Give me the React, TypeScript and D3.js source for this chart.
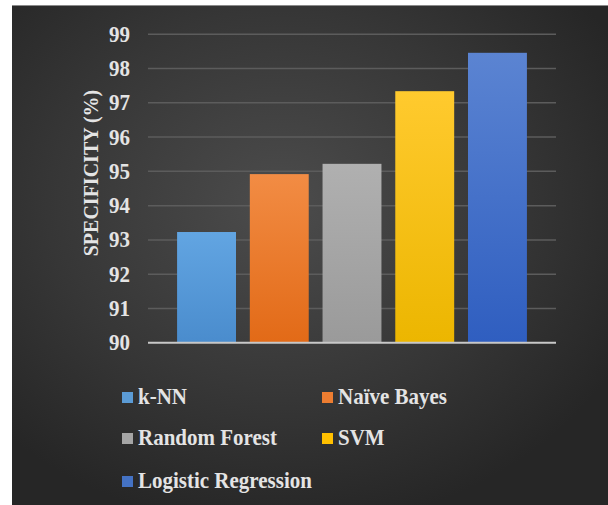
import React from "react";
import * as d3 from "d3";

const categories = ["k-NN", "Naïve Bayes", "Random Forest", "SVM", "Logistic Regression"];
const values = [93.23, 94.92, 95.22, 97.34, 98.46];
const colorsTop = ["#62a5e2", "#f28c44", "#b0b0b0", "#ffca2e", "#5b84d2"];
const colorsBottom = ["#4a8ccd", "#e26a17", "#9a9a9a", "#ecb600", "#2f5ec0"];
const legendColors = ["#5b9bd5", "#ed7d31", "#a5a5a5", "#ffc000", "#4472c4"];
const yTicks = [90, 91, 92, 93, 94, 95, 96, 97, 98, 99];
const yTitle = "SPECIFICITY (%)";

const W = 608;
const H = 505;

export default function App() {
  const x = d3.scaleBand<string>().domain(categories).range([148, 556]).paddingInner(0.19).paddingOuter(0.4);
  const y = d3.scaleLinear().domain([90, 99]).range([342.7, 34.3]);
  const fontStyle = { fontFamily: '"Liberation Serif", "DejaVu Serif", serif', fontWeight: 700 };
  const textColor = "#e4e4e4";

  const legendPos = [
    { x: 122, y: 404 },
    { x: 322, y: 404 },
    { x: 122, y: 445 },
    { x: 322, y: 445 },
    { x: 122, y: 488 },
  ];

  return (
    <svg width={W} height={H} style={{ position: "absolute", left: 0, top: 0 }}>
      <defs>
        <radialGradient id="bg" cx="45%" cy="40%" r="65%">
          <stop offset="0%" stopColor="#4c4c4c" />
          <stop offset="60%" stopColor="#363636" />
          <stop offset="100%" stopColor="#262626" />
        </radialGradient>
        {categories.map((c, i) => (
          <linearGradient key={c} id={`g${i}`} x1="0" y1="0" x2="0" y2="1">
            <stop offset="0%" stopColor={colorsTop[i]} />
            <stop offset="100%" stopColor={colorsBottom[i]} />
          </linearGradient>
        ))}
      </defs>
      <rect x={0} y={0} width={W} height={H} fill="#ffffff" />
      <rect x={12} y={5} width={W - 12} height={H - 5} fill="url(#bg)" />
      <line x1={12} x2={W} y1={5.5} y2={5.5} stroke="#8a8a8a" strokeWidth={1} />

      {yTicks.filter((t) => t !== 90).map((t) => (
        <line key={t} x1={148} x2={556} y1={y(t)} y2={y(t)} stroke="#5c5c5c" strokeWidth={1.5} />
      ))}

      {categories.map((c, i) => (
        <rect
          key={c}
          x={x(c)}
          y={y(values[i])}
          width={x.bandwidth()}
          height={y(90) - y(values[i])}
          fill={`url(#g${i})`}
        />
      ))}

      <line x1={148} x2={556} y1={y(90)} y2={y(90)} stroke="#c8c8c8" strokeWidth={2} />

      {yTicks.map((t) => (
        <text
          key={t}
          transform={`translate(130, ${y(t) + 7.5}) scale(1, 1.12)`}
          textAnchor="end"
          style={{ ...fontStyle, fontSize: 21 }}
          fill={textColor}
        >
          {t}
        </text>
      ))}

      <text
        transform={`translate(98, 173) rotate(-90)`}
        textAnchor="middle"
        style={{ ...fontStyle, fontSize: 20 }}
        fill={textColor}
      >
        {yTitle}
      </text>

      {categories.map((c, i) => (
        <g key={c}>
          <rect x={legendPos[i].x} y={legendPos[i].y - 12} width={11} height={11} fill={legendColors[i]} />
          <text
            transform={`translate(${legendPos[i].x + 16}, ${legendPos[i].y}) scale(1, 1.12)`}
            style={{ ...fontStyle, fontSize: 21 }}
            fill={textColor}
          >
            {c}
          </text>
        </g>
      ))}
    </svg>
  );
}
